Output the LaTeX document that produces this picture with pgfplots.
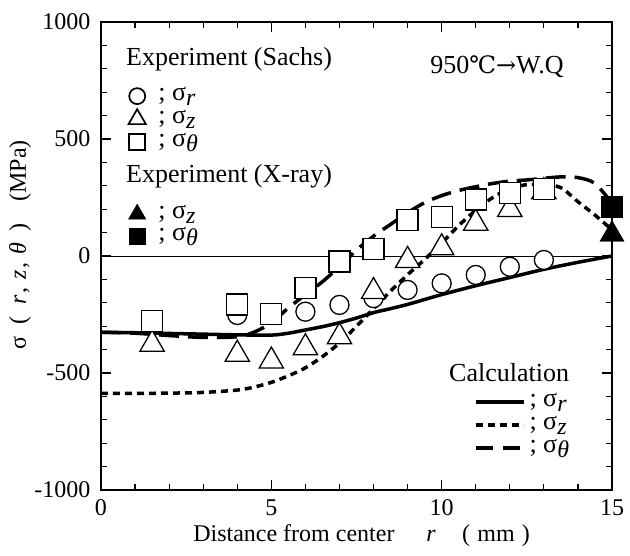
\documentclass[border=0pt]{standalone}
\usepackage{fontspec}
\setmainfont{Liberation Serif}
\newfontfamily\dejavu{DejaVu Serif}
\usepackage{pgfplots}
\pgfplotsset{compat=1.18}
\usetikzlibrary{calc}
\newcommand{\sig}[1]{σ\raisebox{-0.4ex}{\fontsize{24}{24}\selectfont\textit{#1}}}
\pgfplotsset{
  base/.style={scale only axis, width=511pt, height=468pt,
    xmin=0, xmax=15, ymin=-1000, ymax=1000},
  lineimg/.style={legend image code/.code={\draw[##1] (0pt,0pt) -- (48pt,0pt);}},
  markimg/.style={legend image code/.code={\path (0pt,0pt) (20pt,0pt); \draw[##1] plot coordinates {(10pt,0pt)};}},
  leg/.style={draw=none, fill=none, inner sep=0pt, outer sep=0pt,
    font=\fontsize{26}{28}\selectfont,
    nodes={inner sep=0pt, text height=15pt, text depth=6pt}},
}
\begin{document}
\begin{tikzpicture}
\begin{axis}[base,
  xtick={0,5,10,15}, ytick={-1000,-500,0,500,1000},
  minor x tick num=4, minor y tick num=4,
  tick align=inside, major tick length=10pt, minor tick length=6pt,
  axis line style={line width=1.2pt},
  every tick/.style={black, line width=1.2pt},
  font=\fontsize{24}{28}\selectfont,
  /pgf/number format/assume math mode=true,
  /pgf/number format/1000 sep={},
  scaled ticks=false,
  yticklabel style={xshift=-7pt},
  xticklabel style={yshift=-6pt},
  xlabel={Distance from center\hspace{1.33em}\textit{r}\hspace{1.1em}(\hspace{0.3em}mm\hspace{0.3em})},
  xlabel style={at={(axis description cs:0.51,-0.1090)}, anchor=base},
  ylabel={σ\hspace{0.5em}(\hspace{0.5em}\textit{r}\hspace{0.1em},\hspace{0.3em}\textit{z}\hspace{0.1em},\hspace{0.3em}\textit{θ}\hspace{0.5em})\hspace{0.9em}(MPa)},
  ylabel style={at={(axis description cs:-0.1585,0.5235)}, anchor=center, rotate=0},
  clip=false,
  legend style={leg, at={(axis description cs:0.0509,0.864)}, anchor=north west,
    row sep=2pt, column sep=11pt},
  legend cell align=left,
]
\addplot[black, line width=0.9pt, forget plot] coordinates {(0,0) (15,0)};
% sigma_r calc
\addplot[black, line width=3.5pt, smooth, forget plot] coordinates {
(0,-326) (1,-328) (2,-331) (3,-334) (4,-337) (5,-338) (5.5,-330) (6,-316)
(6.5,-302) (7,-285) (7.5,-265) (8,-242) (8.5,-225) (9,-207) (9.5,-186)
(10,-165) (11,-127) (12,-92) (13,-57) (14,-27) (15,0)};
% sigma_z calc
\addplot[black, line width=3.5pt, dash pattern=on 7pt off 5pt, smooth, forget plot] coordinates {
(0,-587) (1,-587) (2,-586) (3,-583) (4,-573) (4.5,-560) (5,-540) (5.5,-512)
(6,-478) (6.5,-430) (7,-372) (7.5,-300) (8,-225) (8.5,-150) (9,-80) (9.5,-15)
(10,55) (10.5,130) (11,195) (11.5,250) (12,288) (12.5,305) (13,305)
(13.5,292) (14,232) (14.5,175) (15,112)};
% sigma_theta calc
\addplot[black, line width=3.5pt, dash pattern=on 20pt off 9pt, smooth, forget plot] coordinates {
(0,-326) (1,-330) (2,-340) (3,-348) (4,-345) (4.5,-325) (5,-285) (5.5,-222)
(6,-165) (6.5,-110) (7,-45) (7.5,25) (8,85) (8.5,135) (9,185) (9.5,228)
(10,258) (10.5,280) (11,296) (11.5,310) (12,320) (12.5,325) (13,332)
(13.5,338) (14,335) (14.5,310) (15,225)};
% Sachs sigma_r
\addplot[only marks, mark=*, mark size=9.5pt, mark options={fill=white, draw=black, line width=1.3pt}, forget plot] coordinates {
(4,-252) (6,-238) (7,-209) (8,-180) (9,-145) (10,-117) (11,-81) (12,-46) (13,-17)};
% Sachs sigma_z
\addplot[only marks, mark=triangle*, mark size=14pt, mark options={fill=white, draw=black, line width=1.3pt}, forget plot] coordinates {
(1.5,-377) (4,-420) (5,-449) (6,-392) (7,-345) (8,-152) (9,-19) (10,35) (11,140) (12,199) (13,275)};
% Sachs sigma_theta
\addplot[only marks, mark=square*, mark size=10.5pt, mark options={fill=white, draw=black, line width=1.3pt}, forget plot] coordinates {
(1.5,-278) (4,-207) (5,-248) (6,-138) (7,-24) (8,29) (9,154) (10,168) (11,241) (12,268) (13,286)};
% X-ray
\addplot[only marks, mark=triangle*, mark size=14pt, mark options={fill=black, draw=black}, forget plot] coordinates {(15,92)};
\addplot[only marks, mark=square*, mark size=10.5pt, mark options={fill=black, draw=black}, forget plot] coordinates {(15,211)};
% legend (Sachs)
\addlegendimage{only marks, mark=*, mark size=8pt, mark options={fill=white, draw=black, line width=1.7pt}, markimg}
\addlegendentry{; \sig{r}}
\addlegendimage{only marks, mark=triangle*, mark size=10pt, mark options={fill=white, draw=black, line width=1.7pt}, markimg}
\addlegendentry{; \sig{z}}
\addlegendimage{only marks, mark=square*, mark size=8pt, mark options={fill=white, draw=black, line width=1.7pt}, markimg}
\addlegendentry{; \sig{θ}}
\node[anchor=base west, font=\fontsize{26}{28}\selectfont, inner sep=0pt] at (axis description cs:0.0489,0.908) {Experiment (Sachs)};
\node[anchor=base west, font=\fontsize{26}{28}\selectfont, inner sep=0pt] at (axis description cs:0.0489,0.658) {Experiment (X-ray)};
\node[anchor=base west, font=\fontsize{26}{28}\selectfont, inner sep=0pt] at (axis description cs:0.681,0.2308) {Calculation};
\node[anchor=base west, font=\fontsize{26}{28}\selectfont, inner sep=0pt] at (axis description cs:0.644,0.891) {950{\dejavu\fontsize{24}{26}\selectfont ℃→}W.Q};
\coordinate (A) at (rel axis cs:0,0);
\coordinate (B) at (rel axis cs:1,1);
\end{axis}
% X-ray legend
\begin{axis}[base, hide axis,
  legend style={leg, at={(axis description cs:0.0509,0.612)}, anchor=north west,
    row sep=1pt, column sep=11pt},
  legend cell align=left,
]
\addlegendimage{only marks, mark=triangle*, mark size=10pt, mark options={fill=black, draw=black}, markimg}
\addlegendentry{; \sig{z}}
\addlegendimage{only marks, mark=square*, mark size=8pt, mark options={fill=black, draw=black}, markimg}
\addlegendentry{; \sig{θ}}
\end{axis}
% Calculation legend
\begin{axis}[base, hide axis,
  legend style={leg, at={(axis description cs:0.730,0.2105)}, anchor=north west,
    row sep=2pt, column sep=4pt},
  legend cell align=left,
]
\addlegendimage{black, line width=3.5pt, lineimg}
\addlegendentry{; \sig{r}}
\addlegendimage{black, line width=3.5pt, dash pattern=on 7pt off 5pt, lineimg}
\addlegendentry{; \sig{z}}
\addlegendimage{black, line width=3.5pt, dash pattern=on 17pt off 10pt, lineimg}
\addlegendentry{; \sig{θ}}
\end{axis}
\pgfresetboundingbox
\path[use as bounding box] ($(A)+(-101pt,-66pt)$) rectangle ($(B)+(18pt,22pt)$);
\end{tikzpicture}
\end{document}
